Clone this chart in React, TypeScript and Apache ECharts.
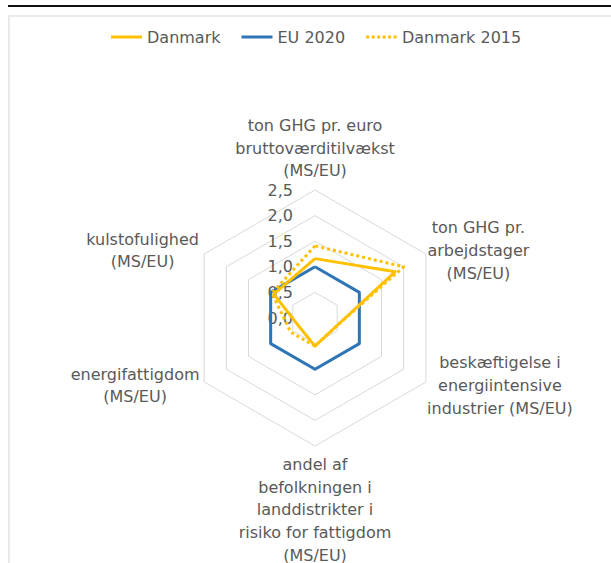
import React, { useEffect, useRef } from 'react';
import * as echarts from 'echarts';

// Indicators listed counter-clockwise starting at the top (ECharts radar default direction)
const indicatorNames = [
  'ton GHG pr. euro\nbruttoværditilvækst\n(MS/EU)',
  'kulstofulighed\n(MS/EU)',
  'energifattigdom\n(MS/EU)',
  'andel af\nbefolkningen i\nlanddistrikter i\nrisiko for fattigdom\n(MS/EU)',
  'beskæftigelse i\nenergiintensive\nindustrier (MS/EU)',
  'ton GHG pr.\narbejdstager\n(MS/EU)',
];
const axisMin = 0;
const axisMax = 2.5;
const seriesNames = ['Danmark', 'EU 2020', 'Danmark 2015'];
const danmark = [1.16, 0.93, 0.35, 0.55, 0.42, 1.81];
const eu2020 = [1, 1, 1, 1, 1, 1];
const danmark2015 = [1.41, 0.97, 0.55, 0.55, 0.42, 2.0];

const YELLOW = '#FFC000';
const BLUE = '#2E75B6';
const TEXT = '#595959';
const FONT = 'DejaVu Sans';

const nameStyleKeys = ['top', 'ul', 'll', 'bot', 'lr', 'ur'];
const baseText = { fontSize: 16, fontFamily: FONT, color: TEXT, lineHeight: 22.7 };

export default function App() {
  const ref = useRef<HTMLDivElement>(null);
  useEffect(() => {
    if (!ref.current) return;
    const chart = echarts.init(ref.current, undefined, { renderer: 'svg' });
    const dotted = 'path://M0,0h3v3h-3z M5.5,0h3v3h-3z M11,0h3v3h-3z M16.5,0h3v3h-3z M22,0h3v3h-3z M27.5,0h3v3h-3z';
    chart.setOption({
      animation: false,
      backgroundColor: '#ffffff',
      legend: {
        top: 24,
        left: 106,
        itemWidth: 31,
        itemHeight: 3,
        itemGap: 21,
        textStyle: { fontSize: 16, fontFamily: FONT, color: TEXT },
        data: [
          { name: seriesNames[0], icon: 'rect' },
          { name: seriesNames[1], icon: 'rect' },
          { name: seriesNames[2], icon: dotted },
        ],
      },
      graphic: [
        { type: 'line', shape: { x1: 8, y1: 6, x2: 611, y2: 6 }, style: { stroke: '#111111', lineWidth: 2 }, silent: true },
        { type: 'rect', shape: { x: 9, y: 16, width: 640, height: 600 }, style: { fill: 'none', stroke: '#E3E3E3', lineWidth: 1.5 }, silent: true, z: -1 },
      ],
      radar: {
        center: [315, 318],
        radius: 128,
        startAngle: 90,
        shape: 'polygon',
        splitNumber: 5,
        nameGap: 7,
        axisName: {
          ...baseText,
          formatter: (name: string) => {
            const idx = indicatorNames.indexOf(name);
            const key = nameStyleKeys[idx] || 'top';
            return name.split('\n').map((l) => `{${key}|${l}}`).join('\n');
          },
          rich: {
            top: { ...baseText, align: 'center' },
            bot: { ...baseText, align: 'center' },
            ul: { ...baseText, width: 111, align: 'center' },
            ll: { ...baseText, width: 126, align: 'center' },
            lr: { ...baseText, width: 136, align: 'center' },
            ur: { ...baseText, width: 93, align: 'center' },
          },
        },
        axisLine: { show: false },
        axisTick: { show: false },
        axisLabel: { show: false },
        splitArea: { show: false },
        splitLine: { lineStyle: { color: '#D9D9D9', width: 1 } },
        indicator: indicatorNames.map((n, i) => ({
          name: n,
          min: axisMin,
          max: axisMax,
          ...(i === 0
            ? {
                axisLabel: {
                  show: true,
                  margin: 22,
                  fontSize: 16,
                  fontFamily: FONT,
                  color: TEXT,
                  formatter: (v: number) => v.toFixed(1).replace('.', ','),
                },
              }
            : {}),
        })),
      },
      series: [
        {
          type: 'radar',
          symbol: 'none',
          silent: true,
          data: [
            { name: seriesNames[1], value: eu2020, itemStyle: { color: BLUE }, lineStyle: { color: BLUE, width: 3 } },
            { name: seriesNames[2], value: danmark2015, itemStyle: { color: YELLOW }, lineStyle: { color: YELLOW, width: 3, type: [3, 3] } },
            { name: seriesNames[0], value: danmark, itemStyle: { color: YELLOW }, lineStyle: { color: YELLOW, width: 3 } },
          ],
        },
      ],
    });
    return () => chart.dispose();
  }, []);
  return <div ref={ref} style={{ position: 'absolute', left: 0, top: 0, width: 611, height: 563 }} />;
}
